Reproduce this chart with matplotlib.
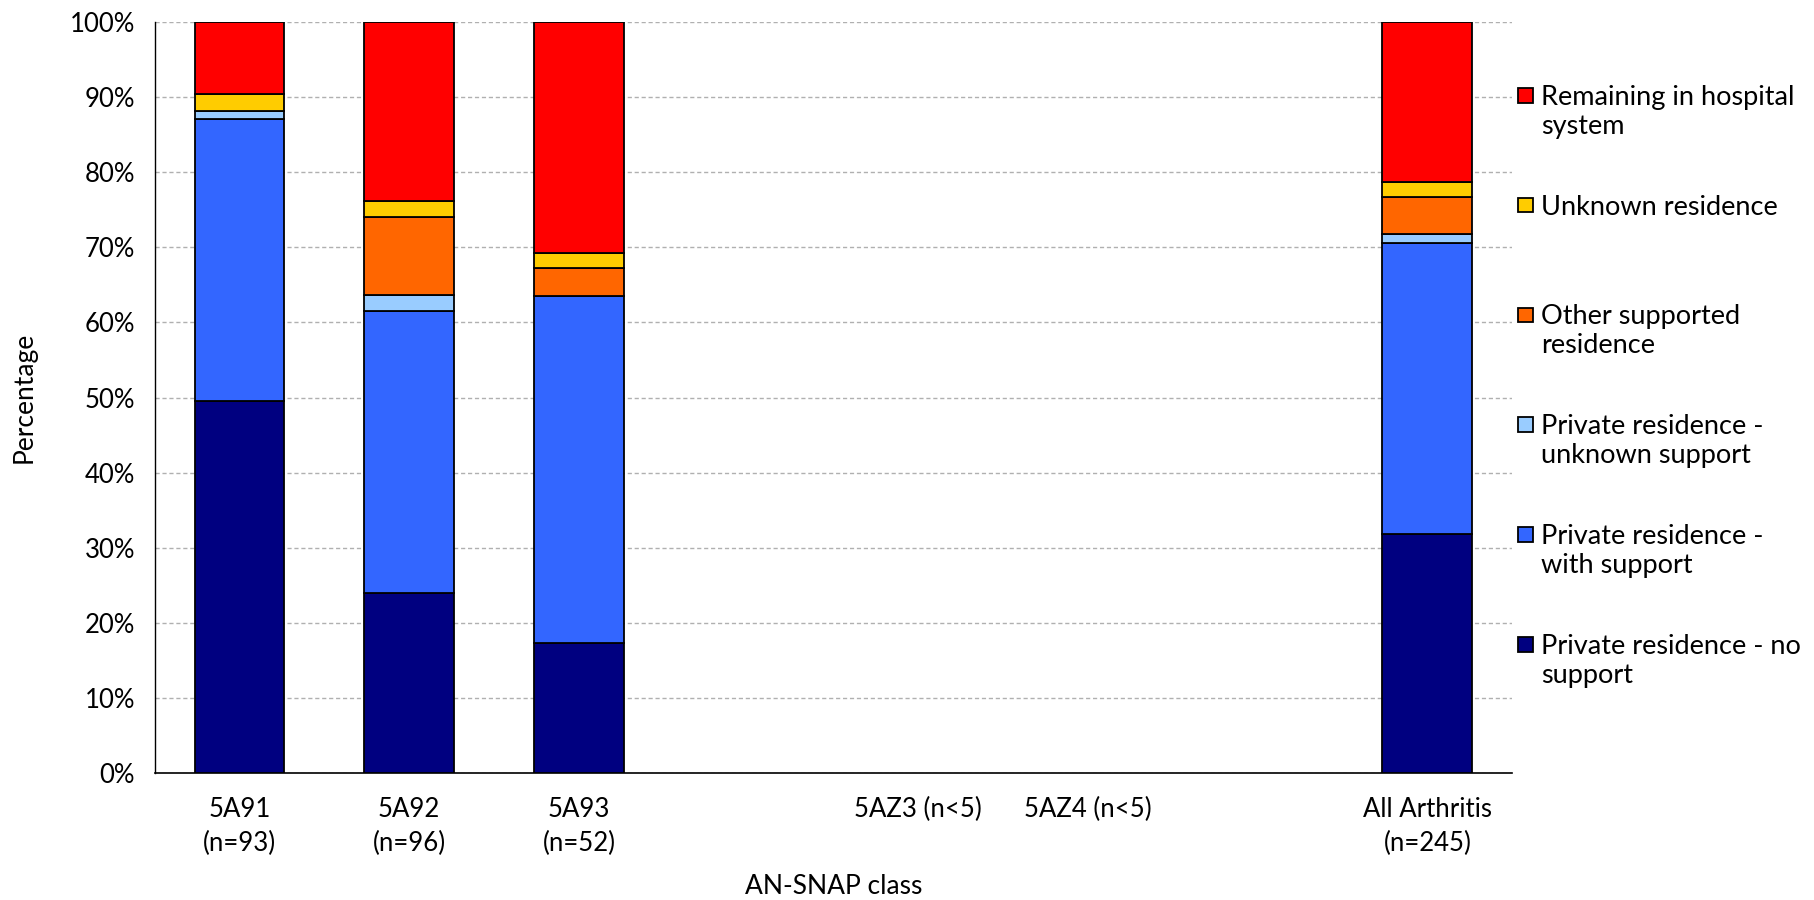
import numpy as np
import matplotlib
matplotlib.use('Agg')
import matplotlib.pyplot as plt
from matplotlib.patches import Rectangle
from matplotlib.legend_handler import HandlerPatch
from matplotlib.ticker import PercentFormatter

plt.rcParams['font.family'] = ['Lato', 'DejaVu Sans']

# AN-SNAP classes (two slots carry no label in the original)
categories = ['5A91\n(n=93)', '5A92\n(n=96)', '5A93\n(n=52)', '',
              '5AZ3 (n<5)', '5AZ4 (n<5)', '', 'All Arthritis\n(n=245)']

# percentages per destination, bottom to top
no_support      = [49.5, 24.0, 17.3, 0, 0, 0, 0, 31.8]
with_support    = [37.6, 37.5, 46.2, 0, 0, 0, 0, 38.8]
unknown_support = [1.1, 2.1, 0.0, 0, 0, 0, 0, 1.2]
other_supported = [0.0, 10.4, 3.8, 0, 0, 0, 0, 4.9]
unknown_res     = [2.2, 2.1, 1.9, 0, 0, 0, 0, 2.0]
remaining       = [9.6, 23.9, 30.8, 0, 0, 0, 0, 21.3]

series = [
    ('Private residence - no\nsupport', no_support, '#000080'),
    ('Private residence -\nwith support', with_support, '#3366FF'),
    ('Private residence -\nunknown support', unknown_support, '#99CCFF'),
    ('Other supported\nresidence', other_supported, '#FF6600'),
    ('Unknown residence\n', unknown_res, '#FFCC00'),
    ('Remaining in hospital\nsystem', remaining, '#FF0000'),
]

fig = plt.figure(figsize=(18.15, 9), dpi=100)
ax = fig.add_axes([0.0852, 0.141, 0.748, 0.8346])

x = np.arange(len(categories))
bottom = np.zeros(len(categories))
handles, labels = [], []
for label, vals, color in series:
    vals = np.array(vals, dtype=float)
    lw = [1.3 if v > 0 else 0 for v in vals]
    bars = ax.bar(x, vals, width=0.53, bottom=bottom, color=color,
                  edgecolor='black', linewidth=lw, zorder=3)
    bottom += vals
    # the last bar (All Arthritis) always has an outline, use it for the legend
    handles.append(bars[-1])
    labels.append(label)

ax.set_xlim(-0.5, len(categories) - 0.5)
ax.set_ylim(0, 100)
ax.set_yticks(np.arange(0, 101, 10))
ax.yaxis.set_major_formatter(PercentFormatter(decimals=0))
ax.set_xticks(x)
ax.set_xticklabels(categories, linespacing=1.45)
ax.tick_params(axis='both', length=0, labelsize=18.5)
ax.tick_params(axis='x', pad=17)
ax.tick_params(axis='y', pad=14)

ax.grid(axis='y', linestyle=(0, (3, 2)), color='#b0b0b0', linewidth=1, zorder=0)
for s in ['top', 'right']:
    ax.spines[s].set_visible(False)
ax.spines['left'].set_linewidth(1)
ax.spines['bottom'].set_linewidth(1.2)

ax.set_ylabel('Percentage', fontsize=19, labelpad=24)
ax.set_xlabel('AN-SNAP class', fontsize=19, labelpad=13)


# legend square sits next to the first line of each label
def top_square(legend, orig_handle, xdescent, ydescent, width, height, fontsize):
    return Rectangle((-xdescent, -ydescent + 0.62 * fontsize), width, height)


ax.legend(handles[::-1], labels[::-1], loc='center left',
          bbox_to_anchor=(1.0, 0.515), frameon=False, fontsize=19.5,
          handlelength=0.55, handleheight=0.45, handletextpad=0.3,
          labelspacing=2.06, borderaxespad=0.0, borderpad=0.2,
          handler_map={h: HandlerPatch(patch_func=top_square) for h in handles})

plt.savefig('out.png', dpi=100)
